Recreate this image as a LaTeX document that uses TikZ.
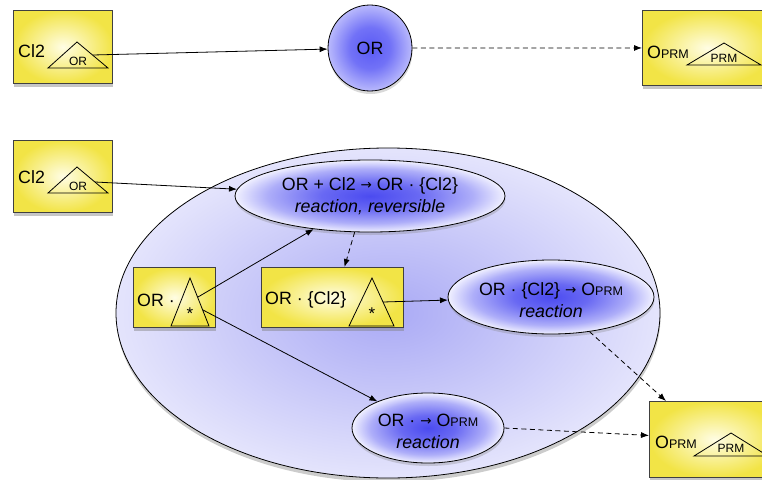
\documentclass[tikz,border=0pt]{standalone}
\usepackage{fontspec}
\setmainfont{Liberation Sans}
\newfontfamily\dvfont{DejaVu Sans}
\usetikzlibrary{shapes.geometric,shadows,arrows.meta}
\definecolor{yelD}{RGB}{242,228,70}
\definecolor{yelL}{RGB}{255,253,228}
\definecolor{bluC}{RGB}{75,75,240}
\definecolor{bluE}{RGB}{240,240,255}
\definecolor{cirC}{RGB}{90,90,245}
\definecolor{cirE}{RGB}{185,185,252}
\definecolor{bigC}{RGB}{170,170,245}
\definecolor{bigE}{RGB}{228,228,252}
\pgfdeclareradialshading{rshade}{\pgfpoint{0bp}{0bp}}{color(0bp)=(bluC); color(9bp)=(bluC!82!bluE); color(19bp)=(bluC!40!bluE); color(25bp)=(bluE); color(50bp)=(bluE)}
\pgfdeclareradialshading{cshade}{\pgfpoint{0bp}{0bp}}{color(0bp)=(cirC); color(12bp)=(cirC!75!cirE); color(25bp)=(cirE); color(50bp)=(cirE)}
\newcommand\oprm{O{\fontsize{12.5}{12.5}\selectfont PRM}}
\newcommand\rarr{{\dvfont\fontsize{13.5}{13.5}\selectfont\raisebox{0.8pt}{→}}}
\begin{document}
\begin{tikzpicture}[x=1pt,y=-1pt,
  ybox/.style={draw=black!75, line width=0.9pt, inner color=yelL, outer color=yelD, inner sep=0pt, anchor=north west,
    drop shadow={shadow xshift=0.5pt, shadow yshift=-4pt, opacity=0.45}},
  rell/.style={ellipse, draw=black, line width=0.8pt, shade, shading=rshade, inner sep=0pt,
    drop shadow={shadow xshift=0.5pt, shadow yshift=-3pt, opacity=0.3}},
  txt/.style={font=\fontsize{17.8}{22}\selectfont, inner sep=0pt},
  small/.style={font=\fontsize{12}{12}\selectfont, inner sep=0pt},
  star/.style={font=\fontsize{17}{17}\selectfont, inner sep=0pt},
  tri/.style={draw=black, line width=0.8pt},
  conn/.style={draw=black, line width=0.8pt, -{Latex[length=8pt,width=6pt]}},
  dconn/.style={conn, dash pattern=on 5pt off 3.5pt},
]
\useasboundingbox (0,0) rectangle (762,479);

% big compartment ellipse
\node[ellipse, draw=black, line width=0.8pt, inner color=bigC, outer color=bigE, inner sep=0pt,
  minimum width=544, minimum height=330,
  drop shadow={shadow xshift=0.5pt, shadow yshift=-4pt, opacity=0.4}] (cell) at (388,313) {};

% top row
\node[ybox, minimum width=99, minimum height=73] (c1) at (13,10) {};
\node[txt, anchor=west] (c1t) at (18,51) {Cl2};
\draw[tri] (77,42) -- (48,68) -- (108,68) -- cycle;
\node[small] (c1o) at (78,61) {OR};
\coordinate (c1s) at (93,55);

\node[ellipse, draw=black, line width=0.8pt, shade, shading=cshade, inner sep=0pt,
  minimum width=84, minimum height=86,
  drop shadow={shadow xshift=0.5pt, shadow yshift=-3pt, opacity=0.3}] (orc) at (370,48) {};
\node[txt] (orct) at (370,48) {OR};

\node[ybox, minimum width=130, minimum height=75] (p1) at (642,10) {};
\node[txt, anchor=west] (p1t) at (647,52) {\oprm};
\draw[tri] (724,43) -- (687,65) -- (761,65) -- cycle;
\node[small] (p1p) at (724,58) {PRM};

% second Cl2 box
\node[ybox, minimum width=99, minimum height=72] (c2) at (13,140) {};
\node[txt, anchor=west] (c2t) at (18,177) {Cl2};
\draw[tri] (77,167) -- (48,193) -- (108,193) -- cycle;
\node[small] (c2o) at (78,186) {OR};
\coordinate (c2s) at (95,182);

% reactions
\node[rell, minimum width=270, minimum height=72] (r1) at (370,196) {};
\node[txt, align=center] (r1t) at (370,196) {OR + Cl2 \rarr{} OR · \{Cl2\}\\\itshape reaction, reversible};

\node[rell, minimum width=206, minimum height=74] (r2) at (551,297) {};
\node[txt, align=center] (r2t) at (551,300) {OR · \{Cl2\} \rarr{} \oprm\\\itshape reaction};

\node[rell, minimum width=152, minimum height=70] (r3) at (428,428) {};
\node[txt, align=center] (r3t) at (428,431) {OR · \rarr{} \oprm\\\itshape reaction};

% inner species boxes
\node[ybox, minimum width=82, minimum height=60] (b1) at (133,267) {};
\node[txt, anchor=west] (b1t) at (137,300) {OR ·};
\draw[tri] (190,278) -- (171,326) -- (209,326) -- cycle;
\node[star] (b1s) at (190,314) {*};
\coordinate (b1a) at (198,297);
\coordinate (b1b) at (203,310);

\node[ybox, minimum width=142, minimum height=60] (b2) at (261,267) {};
\node[txt, anchor=west] (b2t) at (265,300) {OR · \{Cl2\}};
\draw[tri] (372,278) -- (349,326) -- (394,326) -- cycle;
\node[star] (b2s) at (372,314) {*};
\coordinate (b2a) at (383,302);

% product box bottom right
\node[ybox, minimum width=130, minimum height=76] (p2) at (649,401) {};
\node[txt, anchor=west] (p2t) at (655,442) {\oprm};
\draw[tri] (731,433) -- (694,456) -- (768,456) -- cycle;
\node[small] (p2p) at (731,448) {PRM};

% connectors
\draw[conn] (c1s) -- (orc);
\draw[dconn] (orc) -- (p1);
\draw[conn] (c2s) -- (r1);
\draw[conn] (b1a) -- (r1);
\draw[dconn] (r1.247) -- ([xshift=12pt]b2.north);
\draw[conn] (b2a) -- (r2);
\draw[conn] (b1b) -- (r3);
\draw[dconn] (r2.318) -- ([xshift=17pt]p2.north west);
\draw[dconn] (r3.east) -- ([yshift=4pt]p2.west);
\end{tikzpicture}
\end{document}
